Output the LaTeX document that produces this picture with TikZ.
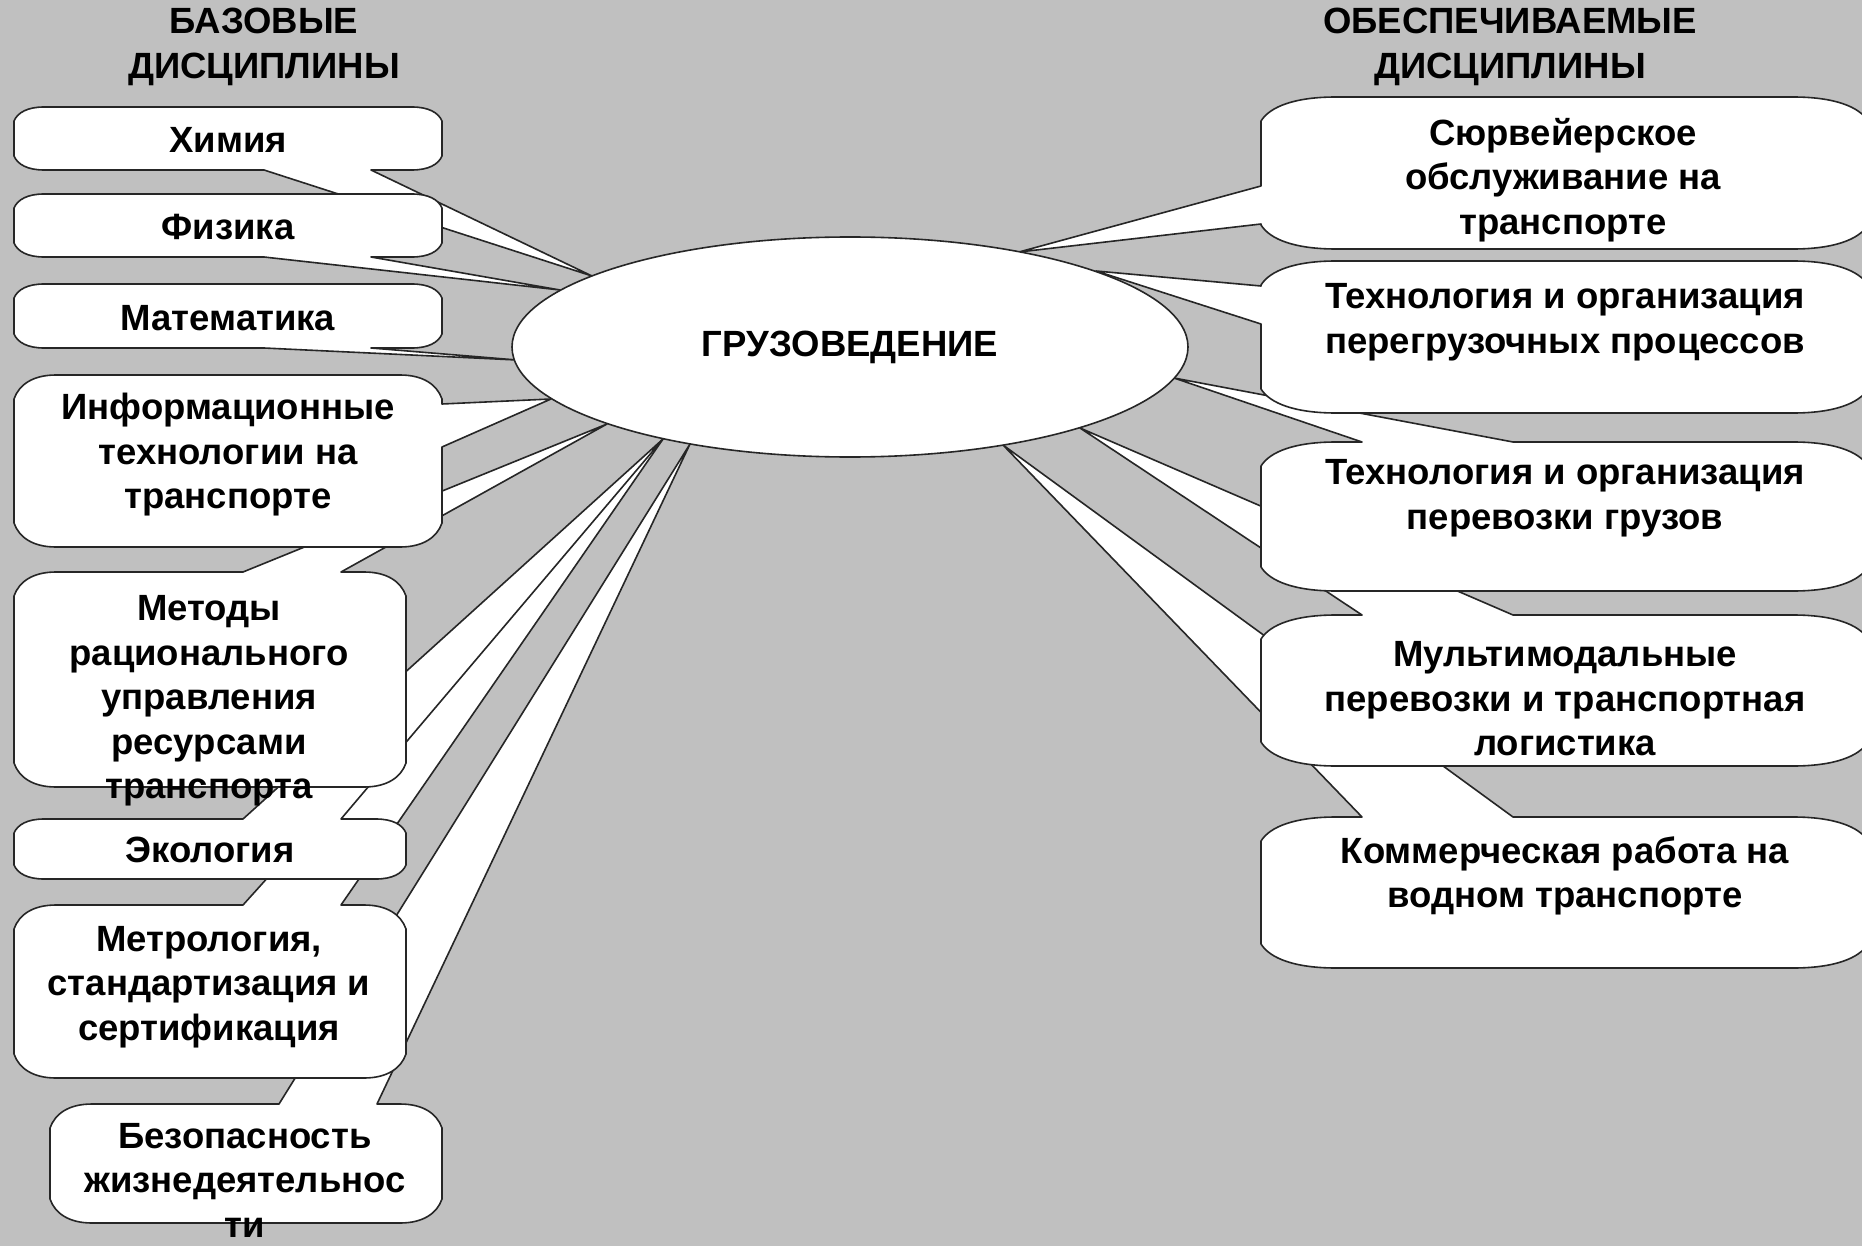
\documentclass[tikz,border=0pt]{standalone}
\usepackage{fontspec}
\setmainfont{Liberation Sans}
\usetikzlibrary{shapes.geometric}
\definecolor{bgc}{HTML}{C0C0C0}
\newcommand\crx{40}
\newcommand\cry{20}
% callout box: x1 y1 x2 y2 side baseA baseB tip
\newcommand\cbox[8]{%
 \def\wT{}\def\wR{}\def\wB{}\def\wL{}%
 \if#5T\def\wT{-- (#6,#2) -- (#8) -- (#7,#2)}\fi
 \if#5R\def\wR{-- (#3,#6) -- (#8) -- (#3,#7)}\fi
 \if#5B\def\wB{-- (#7,#4) -- (#8) -- (#6,#4)}\fi
 \if#5L\def\wL{-- (#1,#7) -- (#8) -- (#1,#6)}\fi
 \path[cbs] (#1+\crx,#2) \wT -- (#3-\crx,#2)
   .. controls (#3-0.45*\crx,#2) and (#3-0.12*\crx,#2+0.4*\cry) .. (#3,#2+\cry) \wR
   -- (#3,#4-\cry)
   .. controls (#3-0.12*\crx,#4-0.4*\cry) and (#3-0.45*\crx,#4) .. (#3-\crx,#4) \wB
   -- (#1+\crx,#4)
   .. controls (#1+0.45*\crx,#4) and (#1+0.12*\crx,#4-0.4*\cry) .. (#1,#4-\cry) \wL
   -- (#1,#2+\cry)
   .. controls (#1+0.12*\crx,#2+0.4*\cry) and (#1+0.45*\crx,#2) .. (#1+\crx,#2) -- cycle;
}
\tikzset{
 cbs/.style={fill=white, draw=black!85, line width=1.6pt, line join=round},
 lbl/.style={font=\bfseries\fontsize{36.5}{44.5}\selectfont, align=center, inner sep=0pt, text=black},
 ell/.style={ellipse, draw=black!85, fill=white, line width=1.6pt, minimum width=676, minimum height=220, inner sep=0pt, font=\bfseries\fontsize{36.5}{44.5}\selectfont}
}
\begin{document}
\begin{tikzpicture}[x=1pt, y=-1pt]
\fill[bgc] (0,0) rectangle (1862,1246);
\useasboundingbox (0,0) rectangle (1862,1246);
% tips on the central ellipse
\coordinate (tChem) at (592,276);
\coordinate (tPhys) at (560,290);
\coordinate (tMath) at (517,360);
\coordinate (tInfo) at (551,399);
\coordinate (tMeth) at (607,424);
\coordinate (tEco)  at (663,439);
\coordinate (tMetr) at (663,439);
\coordinate (tSafe) at (690,444);
\coordinate (tSurv) at (1019,252);
\coordinate (tPere) at (1096,271);
\coordinate (tPerv) at (1174,378);
\coordinate (tMult) at (1080,428);
\coordinate (tComm) at (1003,445);
% left callouts
\renewcommand\crx{42}\renewcommand\cry{24}
\cbox{50}{1104}{442}{1223}{T}{279}{377}{tSafe}
\cbox{14}{905}{406}{1078}{T}{243}{341}{tMetr}
\renewcommand\crx{30}\renewcommand\cry{14}
\cbox{14}{819}{406}{879}{T}{243}{341}{tEco}
\renewcommand\crx{42}\renewcommand\cry{24}
\cbox{14}{572}{406}{787}{T}{243}{341}{tMeth}
\cbox{14}{375}{442}{547}{R}{404}{447}{tInfo}
\renewcommand\crx{30}\renewcommand\cry{14}
\cbox{14}{284}{442}{348}{B}{264}{371}{tMath}
\cbox{14}{107}{442}{170}{B}{264}{371}{tChem}
\cbox{14}{194}{442}{257}{B}{264}{371}{tPhys}
% right callouts
\renewcommand\crx{75}\renewcommand\cry{24}
\cbox{1261}{817}{1868}{968}{T}{1362}{1513}{tComm}
\cbox{1261}{615}{1868}{766}{T}{1362}{1513}{tMult}
\cbox{1261}{442}{1868}{591}{T}{1362}{1513}{tPerv}
\cbox{1261}{261}{1868}{413}{L}{286}{324}{tPere}
\cbox{1261}{97}{1868}{249}{L}{186}{224}{tSurv}
% centre
\node[ell] (E) at (850,347) {ГРУЗОВЕДЕНИЕ};
% headings
\node[lbl] (hL) at (264,47) {БАЗОВЫЕ\\ДИСЦИПЛИНЫ};
\node[lbl] (hR) at (1510,47) {ОБЕСПЕЧИВАЕМЫЕ\\ДИСЦИПЛИНЫ};
% left texts
\node[lbl] (lChem) at (228,140) {Химия};
\node[lbl] (lPhys) at (228,227) {Физика};
\node[lbl] (lMath) at (228,318) {Математика};
\node[lbl] (lInfo) at (228,455) {Информационные\\технологии на\\транспорте};
\node[lbl] (lMeth) at (209,701) {Методы\\рационального\\управления\\ресурсами\\транспорта};
\node[lbl] (lEco) at (210,850) {Экология};
\node[lbl] (lMetr) at (209,987) {Метрология,\\стандартизация и\\сертификация};
\node[lbl] (lSafe) at (245,1180) {Безопасность\\жизнедеятельнос\\ти};
% right texts
\node[lbl] (rSurv) at (1563,180) {Сюрвейерское\\обслуживание на\\транспорте};
\node[lbl] (rPere) at (1565,322) {Технология и организация\\перегрузочных процессов};
\node[lbl] (rPerv) at (1565,498) {Технология и организация\\перевозки грузов};
\node[lbl] (rMult) at (1565,699) {Мультимодальные\\перевозки и транспортная\\логистика};
\node[lbl] (rComm) at (1565,876) {Коммерческая работа на\\водном транспорте};
\end{tikzpicture}
\end{document}
